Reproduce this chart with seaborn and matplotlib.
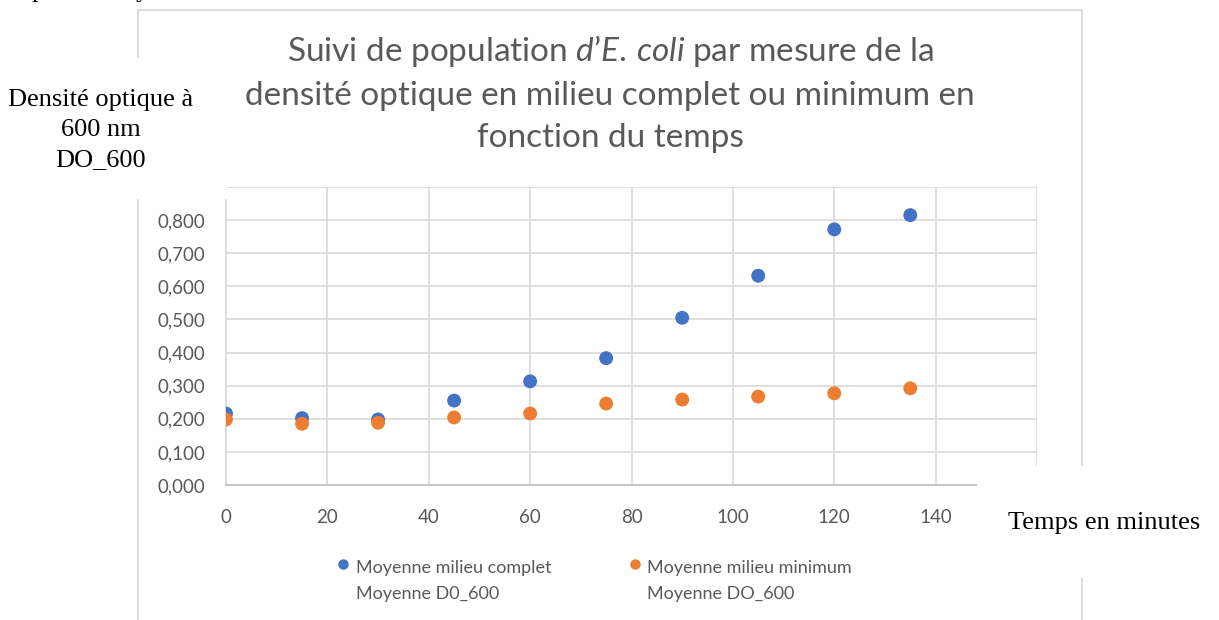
import numpy as np
import pandas as pd
import seaborn as sns
import matplotlib.pyplot as plt
from matplotlib.lines import Line2D
from matplotlib.patches import Rectangle
from matplotlib.ticker import FuncFormatter
from matplotlib.legend_handler import HandlerLine2D

# Data
temps = [0, 15, 30, 45, 60, 75, 90, 105, 120, 135]
do_complet = [0.216, 0.202, 0.198, 0.255, 0.313, 0.383, 0.505, 0.632, 0.772, 0.815]
do_minimum = [0.198, 0.185, 0.188, 0.204, 0.216, 0.246, 0.258, 0.267, 0.277, 0.292]
label_complet = "Moyenne milieu complet\nMoyenne D0_600"
label_minimum = "Moyenne milieu minimum\nMoyenne DO_600"

df = pd.DataFrame({
    "temps": temps * 2,
    "do": do_complet + do_minimum,
    "serie": [label_complet] * len(temps) + [label_minimum] * len(temps),
})

sns.set_style("white")
plt.rcParams["font.family"] = ["Lato", "DejaVu Sans"]
plt.rcParams["mathtext.fontset"] = "custom"
plt.rcParams["mathtext.rm"] = "Lato"
plt.rcParams["mathtext.it"] = "Lato:italic"

blue = "#4472C4"
orange = "#ED7D31"
gray_txt = "#595959"
grid_col = "#d9d9d9"
W, H = 1219, 620

fig = plt.figure(figsize=(W / 100, H / 100), dpi=100)
ax = fig.add_axes([226 / W, 1 - 485 / H, (1037 - 226) / W, (485 - 187) / H])

sns.scatterplot(data=df, x="temps", y="do", hue="serie",
                palette=[blue, orange], s=100, edgecolor="none",
                legend=False, ax=ax, zorder=3)

ax.set_xlim(0, 160)
ax.set_ylim(0, 0.9)
ax.set_xticks(np.arange(0, 161, 20))
ax.set_yticks(np.arange(0, 0.91, 0.1))
# last labels (160 and 0,900) are hidden under pasted boxes in the original
ax.xaxis.set_major_formatter(FuncFormatter(lambda v, p: "" if v > 150 else f"{v:.0f}"))
ax.yaxis.set_major_formatter(FuncFormatter(
    lambda v, p: "" if v > 0.85 else f"{v:.3f}".replace(".", ",")))
ax.grid(True, color=grid_col, lw=1.2)
ax.set_axisbelow(True)
for side in ["top", "right"]:
    ax.spines[side].set_visible(False)
ax.spines["left"].set_color(grid_col)
ax.spines["left"].set_linewidth(1.2)
ax.spines["bottom"].set_color("#bfbfbf")
ax.spines["bottom"].set_linewidth(1.2)
ax.tick_params(length=0, labelsize=13.5, labelcolor=gray_txt)
ax.tick_params(axis="x", pad=17)
ax.tick_params(axis="y", pad=15)
ax.set_xlabel("")
ax.set_ylabel("")

# outer chart frame
fig.patches.append(Rectangle((138 / W, -0.1), (1082 - 138) / W, 1.1 - 10 / H,
                             transform=fig.transFigure, fill=False,
                             edgecolor=grid_col, lw=1.3, zorder=0.5))

# white boxes pasted over the chart
fig.patches.append(Rectangle((0, 1 - 199 / H), 227 / W, (199 - 58) / H,
                             transform=fig.transFigure, facecolor="white",
                             edgecolor="none", zorder=5))
fig.patches.append(Rectangle((977 / W, 1 - 578 / H), (W - 977) / W, (578 - 466) / H,
                             transform=fig.transFigure, facecolor="white",
                             edgecolor="none", zorder=5))

fig.text(610 / W, 1 - 93 / H,
         "Suivi de population $\\it{d’E.\\,coli}$ par mesure de la\n"
         "densité optique en milieu complet ou minimum en\n"
         "fonction du temps",
         ha="center", va="center", fontsize=24, color=gray_txt,
         linespacing=1.48, zorder=6)

serif = ["Liberation Serif", "DejaVu Serif"]
fig.text(101 / W, 1 - 130 / H, "Densité optique à\n600 nm\nDO_600",
         ha="center", va="center", family=serif, fontsize=19,
         linespacing=1.45, color="black", zorder=6)
fig.text(1104 / W, 1 - 523 / H, "Temps en minutes",
         ha="center", va="center", family=serif, fontsize=19,
         color="black", zorder=6)
fig.text(32 / W, 1 + 3 / H, "p", family=serif, fontsize=19,
         va="baseline", color="black")
fig.text(136 / W, 1 + 3 / H, "y", family=serif, fontsize=19,
         va="baseline", color="black")


class TopMarker(HandlerLine2D):
    def create_artists(self, legend, orig_handle, xdescent, ydescent,
                       width, height, fontsize, trans):
        return super().create_artists(legend, orig_handle, xdescent, ydescent,
                                      width, height + fontsize * 1.9,
                                      fontsize, trans)


handles = [Line2D([], [], ls="", marker="o", ms=7.5, color=c, mec="none")
           for c in [blue, orange]]
leg = fig.legend(handles, [label_complet, label_minimum], ncol=2,
                 loc="center", bbox_to_anchor=(595 / W, 1 - 581 / H),
                 frameon=False, fontsize=13, labelcolor=gray_txt,
                 handlelength=0.6, handletextpad=0.4, columnspacing=4.3,
                 handler_map={Line2D: TopMarker()})
for t in leg.get_texts():
    t.set_linespacing(1.8)

fig.savefig("out.png", dpi=100)
